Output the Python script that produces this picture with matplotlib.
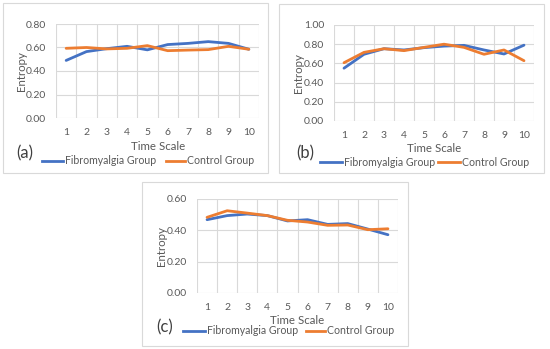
import numpy as np
import matplotlib.pyplot as plt
from matplotlib.patches import Rectangle
from matplotlib.lines import Line2D

scales = list(range(1, 10 + 1))

fibro_a = [0.49, 0.565, 0.59, 0.61, 0.58, 0.625, 0.635, 0.65, 0.635, 0.585]
control_a = [0.593, 0.60, 0.588, 0.593, 0.616, 0.573, 0.578, 0.582, 0.61, 0.585]

fibro_b = [0.55, 0.695, 0.753, 0.74, 0.764, 0.78, 0.788, 0.74, 0.698, 0.79]
control_b = [0.607, 0.715, 0.753, 0.733, 0.767, 0.80, 0.767, 0.695, 0.74, 0.628]

fibro_c = [0.468, 0.494, 0.504, 0.494, 0.46, 0.468, 0.438, 0.443, 0.408, 0.372]
control_c = [0.483, 0.525, 0.51, 0.494, 0.464, 0.453, 0.432, 0.434, 0.404, 0.41]

BLUE = '#4472C4'
ORANGE = '#ED7D31'
GRID = '#D9D9D9'
TXT = '#595959'
W, H = 550, 349

plt.rcParams['font.family'] = ['Lato', 'DejaVu Sans']

fig = plt.figure(figsize=(W / 100, H / 100), dpi=100)


def fx(x):
    return x / W


def fy(y):
    return 1 - y / H


def panel(box, plot, fibro, control, ymax, letter, letter_xy, title_xy, ylab_x, legend):
    # box / plot in pixel coords: (left, top, right, bottom)
    l, t, r, b = box
    fig.patches.append(Rectangle((fx(l), fy(b)), fx(r - l), (b - t) / H,
                                 transform=fig.transFigure, fill=False,
                                 edgecolor=GRID, linewidth=0.8))
    pl, pt, pr, pb = plot
    ax = fig.add_axes([fx(pl), fy(pb), fx(pr - pl), (pb - pt) / H])
    ax.plot(scales, fibro, color=BLUE, lw=2.0, solid_capstyle='round')
    ax.plot(scales, control, color=ORANGE, lw=2.0, solid_capstyle='round')
    ax.set_xlim(0.5, 10.5)
    ax.set_ylim(0, ymax)
    ax.set_yticks(np.arange(0, ymax + 0.001, 0.2))
    ax.set_yticklabels(['%.2f' % v for v in np.arange(0, ymax + 0.001, 0.2)])
    ax.set_xticks(scales)
    ax.set_xticks(np.arange(0.5, 11, 1), minor=True)
    ax.grid(axis='y', which='major', color=GRID, lw=0.8)
    ax.grid(axis='x', which='minor', color=GRID, lw=0.8)
    ax.set_axisbelow(True)
    for s in ax.spines.values():
        s.set_visible(False)
    ax.tick_params(which='both', length=0, labelsize=7.5, colors=TXT)
    ax.tick_params(axis='y', pad=7)
    ax.tick_params(axis='x', pad=7)
    fig.text(fx(title_xy[0]), fy(title_xy[1]), 'Time Scale', ha='center', va='center',
             fontsize=8.3, color=TXT)
    fig.text(fx(ylab_x), fy((pt + pb) / 2), 'Entropy', ha='center', va='center',
             rotation=90, fontsize=8.3, color=TXT)
    fig.text(fx(letter_xy[0]), fy(letter_xy[1]), letter, ha='left', va='center',
             fontsize=12, color='#404040')
    ly, bx0, bx1, ox0, ox1 = legend
    fig.add_artist(Line2D([fx(bx0), fx(bx1)], [fy(ly), fy(ly)], color=BLUE, lw=2.0,
                          transform=fig.transFigure))
    fig.text(fx(bx1 + 2), fy(ly), 'Fibromyalgia Group', ha='left', va='center',
             fontsize=7.6, color=TXT)
    fig.add_artist(Line2D([fx(ox0), fx(ox1)], [fy(ly), fy(ly)], color=ORANGE, lw=2.0,
                          transform=fig.transFigure))
    fig.text(fx(ox1 + 2), fy(ly), 'Control Group', ha='left', va='center',
             fontsize=7.6, color=TXT)


panel((3, 3, 268, 173), (56, 24, 259, 118), fibro_a, control_a, 0.8,
      '(a)', (16, 153), (158, 146), 21, (161, 42, 63, 166, 185))
panel((279, 4, 544, 173), (334, 25, 534, 121), fibro_b, control_b, 1.0,
      '(b)', (296, 153), (434, 148), 299, (162, 320, 342, 438, 460))
panel((142, 182, 408, 346), (197, 199, 398, 293), fibro_c, control_c, 0.6,
      '(c)', (156, 327), (297, 321), 162, (331, 183, 205, 306, 325))

fig.savefig('out.png', dpi=100)
